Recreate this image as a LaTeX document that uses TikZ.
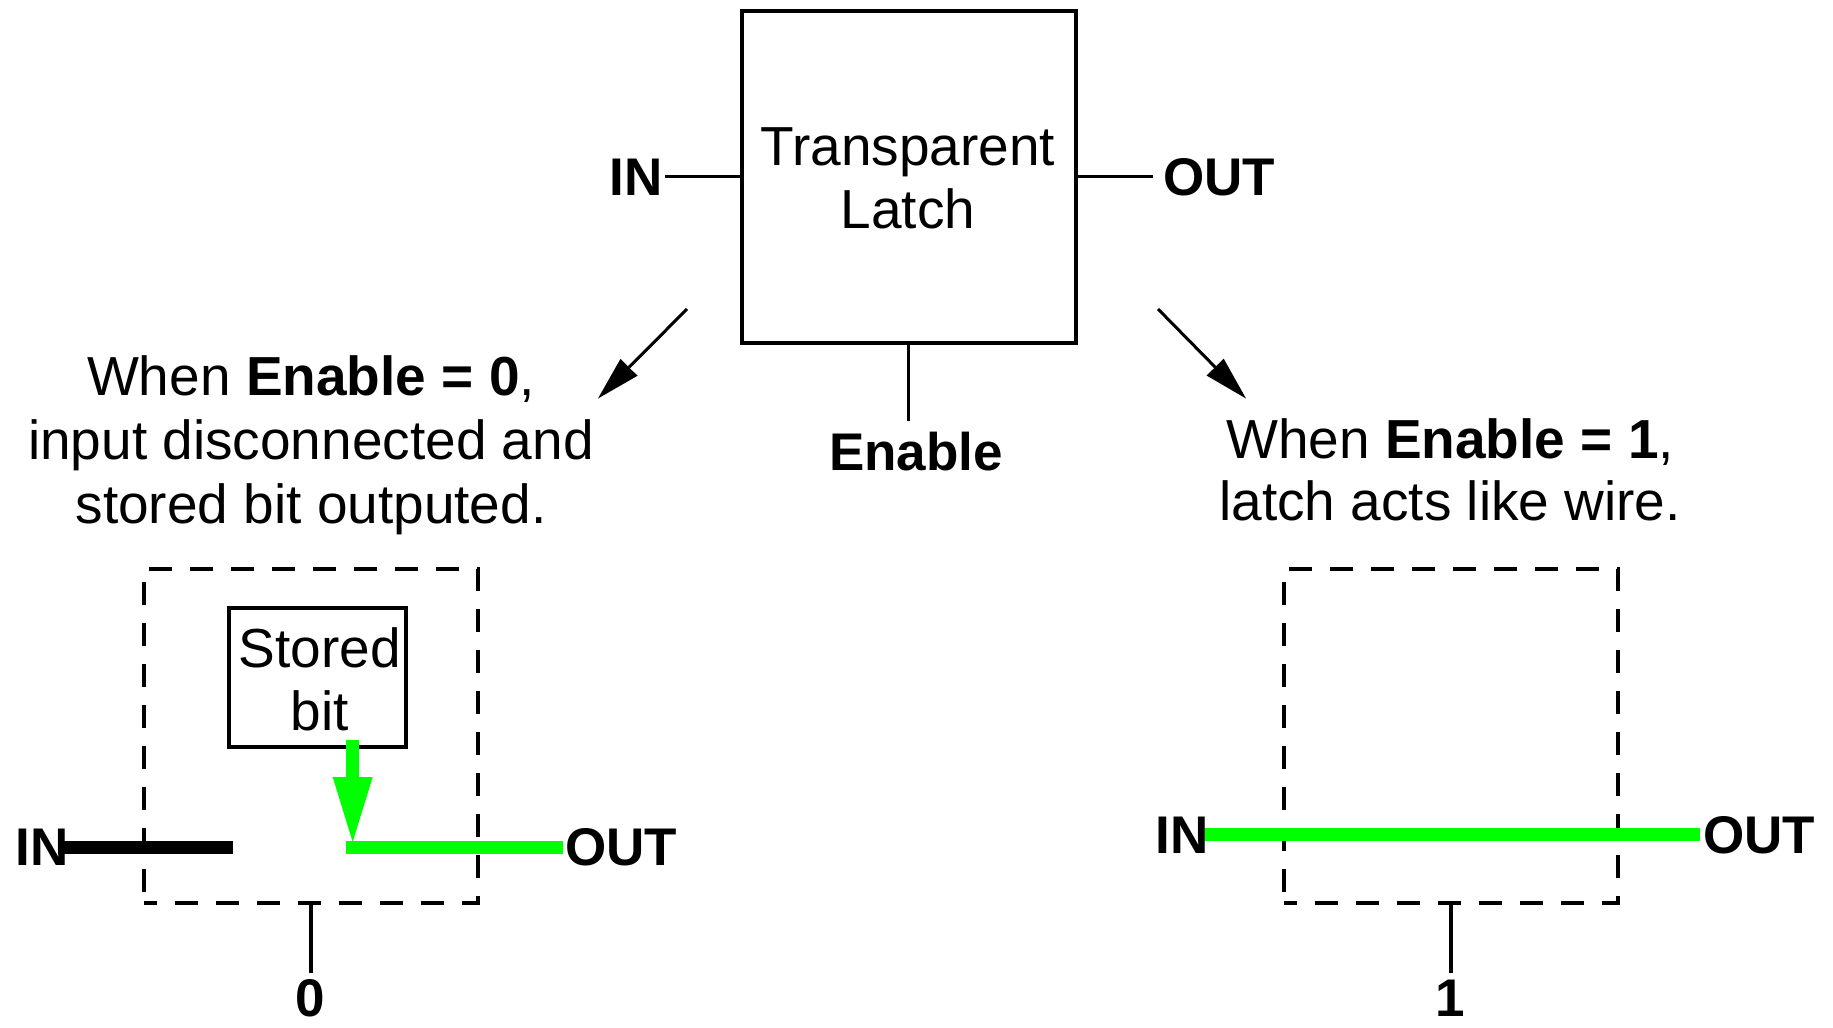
\documentclass[tikz,border=0pt]{standalone}
\usepackage{fontspec}
\setmainfont{Liberation Sans}
\usetikzlibrary{arrows.meta}
\definecolor{brightgreen}{RGB}{0,255,0}
\begin{document}
\begin{tikzpicture}[x=0.5pt,y=-0.5pt,
  txt/.style={inner sep=0pt, anchor=base, font=\fontsize{27.5}{33}\selectfont},
  lbl/.style={inner sep=0pt, font=\fontsize{26.5}{32}\selectfont\bfseries},
  wire/.style={line width=1.7pt},
  dbox/.style={draw, line width=1.7pt, dash pattern=on 11.5pt off 9pt, dash phase=5pt, minimum width=167pt, minimum height=167pt, inner sep=0pt},
  sig/.style={line width=6.5pt},
  bigarrow/.style={line width=1.5pt, -{Triangle[length=22pt,width=12pt,line width=0pt]}},
  greenarrow/.style={sig, brightgreen, -{Triangle[length=32.5pt,width=20pt,line width=0pt]}}]
\useasboundingbox (0,0) rectangle (1833,1028);

% ---- top latch ----
\node[draw, line width=2pt, minimum width=167pt, minimum height=166pt, inner sep=0pt] (latch) at (908.5,176.5) {};
\node[txt] (t1) at (908,165) {Transparent};
\node[txt] (t2) at (908,228) {Latch};
\node[lbl, anchor=base east] (inT) at (663,195) {IN};
\node[lbl, anchor=base west] (outT) at (1163,195) {OUT};
\node[lbl, anchor=base] (enT) at (916,470) {Enable};
\coordinate (inA) at (665,176.5);
\coordinate (outA) at (1153,176.5);
\coordinate (enA) at (908.5,421);
\draw[wire] (inA) -- (latch.west);
\draw[wire] (latch.east) -- (outA);
\draw[wire] (latch.south) -- (enA);

% ---- diagonal arrows ----
\coordinate (la0) at (687,309);
\coordinate (la1) at (598,398.5);
\coordinate (ra0) at (1158,309);
\coordinate (ra1) at (1246,398.5);
\draw[bigarrow] (la0) -- (la1);
\draw[bigarrow] (ra0) -- (ra1);

% ---- explanation texts ----
\node[txt] (l1) at (311,395) {When \textbf{Enable = 0},};
\node[txt] (l2) at (311,459) {input disconnected and};
\node[txt] (l3) at (311,523) {stored bit outputed.};
\node[txt] (r1) at (1450,458) {When \textbf{Enable = 1},};
\node[txt] (r2) at (1450,520) {latch acts like wire.};

% ---- lower left: Enable = 0 ----
\node[dbox] (dl) at (311,736) {};
\node[draw, line width=1.7pt, minimum width=88.5pt, minimum height=69.5pt, inner sep=0pt] (sb) at (317.5,677.5) {};
\node[txt] (s1) at (320,667) {Stored};
\node[txt] (s2) at (320,730) {bit};
\coordinate (gTop) at (352.7,740);
\coordinate (gTip) at (352.7,842);
\draw[greenarrow] (gTop) -- (gTip);
\coordinate (gL) at (346,847.5);
\coordinate (gR) at (563,847.5);
\draw[sig, brightgreen] (gL) -- (gR);
\node[lbl, anchor=base west] (in0) at (15,865) {IN};
\node[lbl, anchor=base west] (out0) at (565,865) {OUT};
\coordinate (bL) at (62,847.5);
\coordinate (bR) at (233,847.5);
\draw[sig] (bL) -- (bR);
\coordinate (e0) at (311,973);
\draw[wire] (dl.south) -- (e0);
\node[lbl, anchor=base] (z0) at (310,1016) {0};

% ---- lower right: Enable = 1 ----
\node[dbox] (dr) at (1451,736) {};
\coordinate (wL) at (1200,834);
\coordinate (wR) at (1700,834);
\draw[sig, brightgreen] (wL) -- (wR);
\node[lbl, anchor=base west] (in1) at (1155,853) {IN};
\node[lbl, anchor=base west] (out1) at (1703,853) {OUT};
\coordinate (e1) at (1451,973);
\draw[wire] (dr.south) -- (e1);
\node[lbl, anchor=base] (z1) at (1450,1016) {1};
\end{tikzpicture}
\end{document}
